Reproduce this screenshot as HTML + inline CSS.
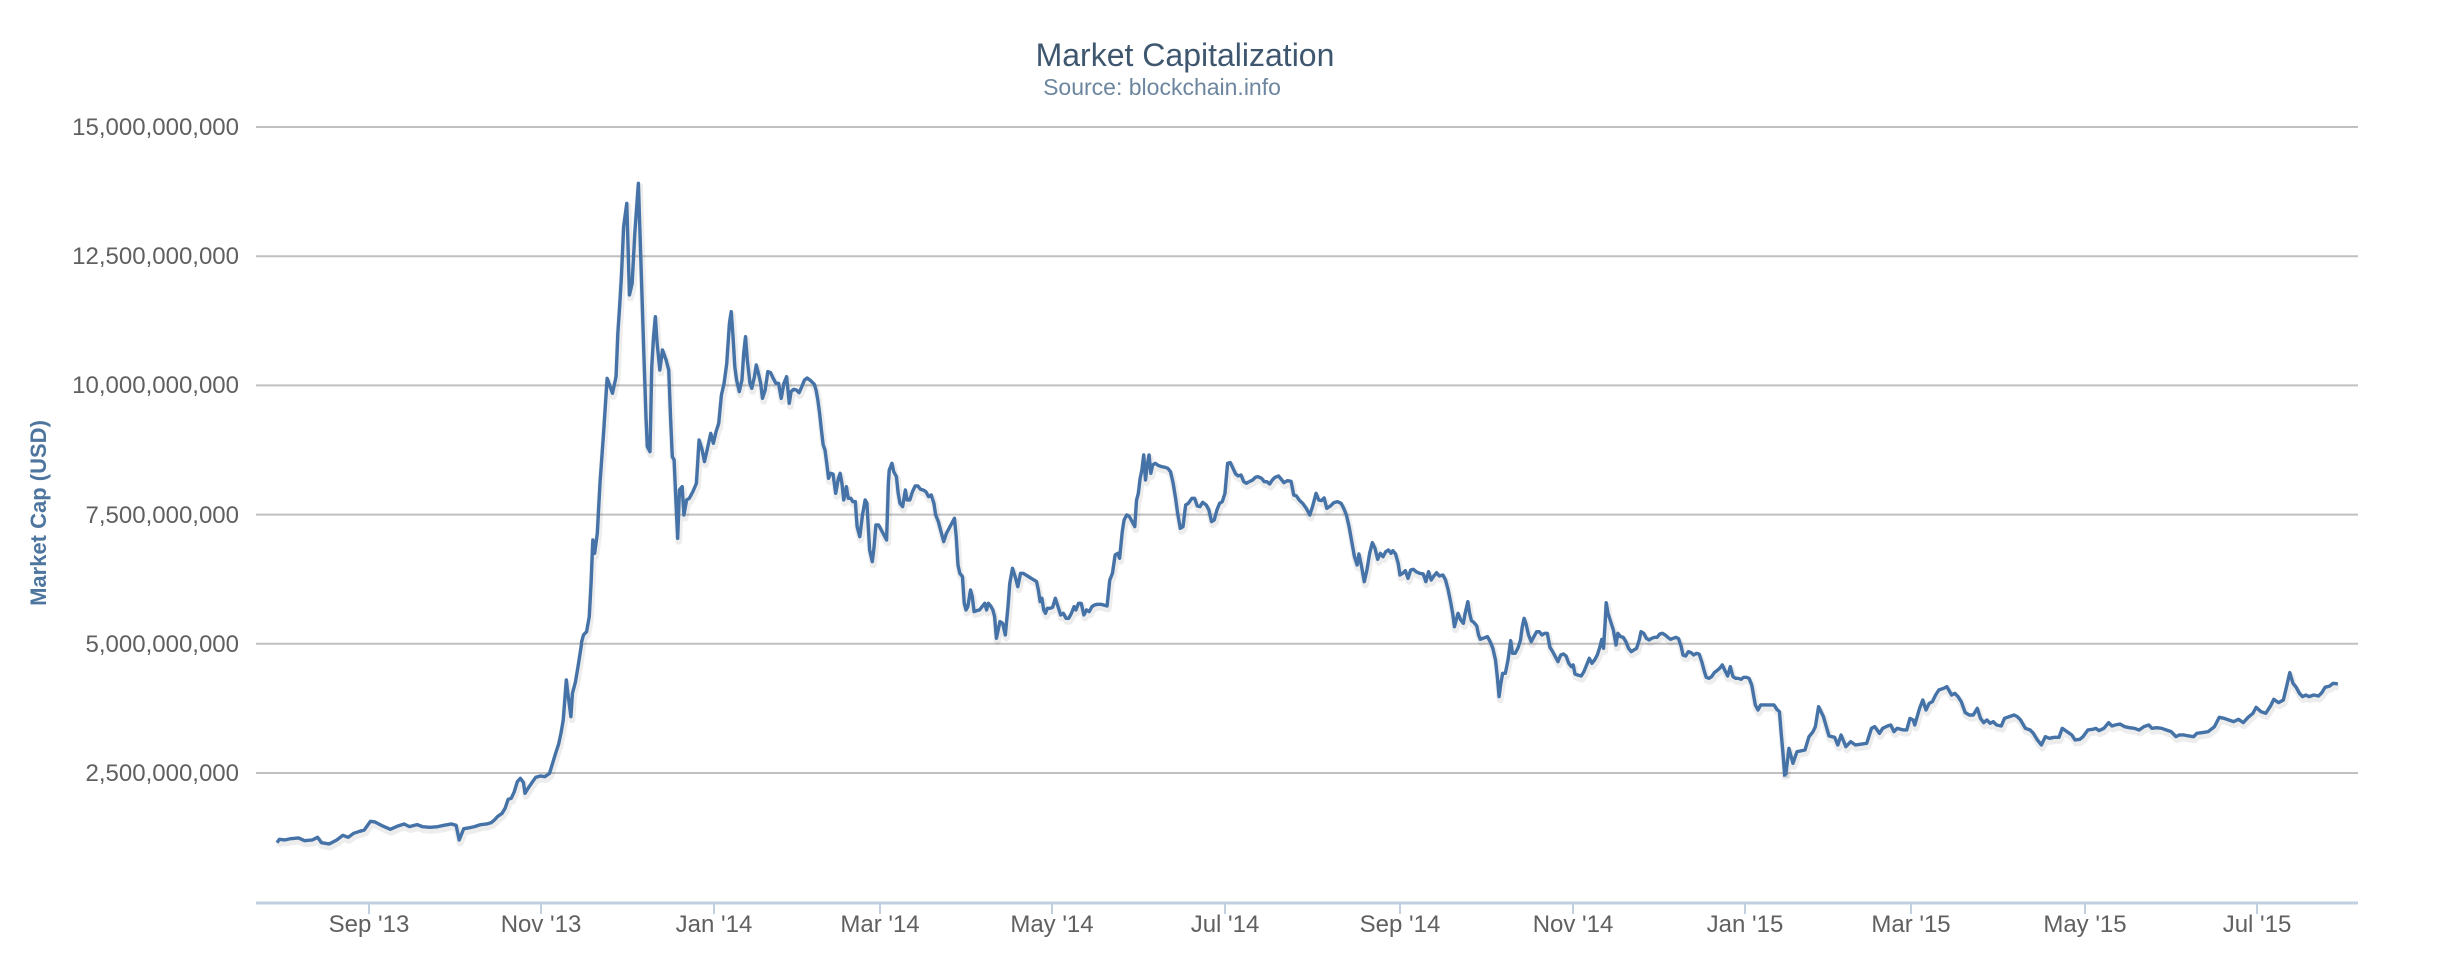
<!DOCTYPE html>
<html><head><meta charset="utf-8"><style>
html,body{margin:0;padding:0;background:#fff;}
svg{display:block;font-family:"Liberation Sans",sans-serif;}
.yl{font-size:24px;fill:#606060;text-anchor:end;}
.xl{font-size:24px;fill:#606060;text-anchor:middle;}
.ln{fill:none;stroke:#4572A7;stroke-width:3.4;stroke-linejoin:round;}
.sh{fill:none;stroke:rgba(0,0,0,0.07);stroke-width:7;stroke-linejoin:round;}
polyline{vector-effect:non-scaling-stroke;}
</style></head><body>
<svg width="2456" height="974" viewBox="0 0 2456 974" xmlns="http://www.w3.org/2000/svg">
<text x="1185" y="66" text-anchor="middle" font-size="32" fill="#3E576F">Market Capitalization</text>
<text x="1162" y="95" text-anchor="middle" font-size="23" fill="#6D869F">Source: blockchain.info</text>
<text transform="translate(46,513) rotate(-90)" text-anchor="middle" font-size="22" font-weight="bold" fill="#4D759E">Market Cap (USD)</text>
<g stroke="#C0C0C0" stroke-width="2">
<line x1="256" x2="2358" y1="127" y2="127"/>
<line x1="256" x2="2358" y1="256.2" y2="256.2"/>
<line x1="256" x2="2358" y1="385.4" y2="385.4"/>
<line x1="256" x2="2358" y1="514.6" y2="514.6"/>
<line x1="256" x2="2358" y1="643.8" y2="643.8"/>
<line x1="256" x2="2358" y1="773" y2="773"/>
</g>
<line x1="256" x2="2358" y1="903" y2="903" stroke="#C0D0E0" stroke-width="3"/>
<g stroke="#C0D0E0" stroke-width="2">
<line x1="369" x2="369" y1="903" y2="914"/><line x1="541" x2="541" y1="903" y2="914"/>
<line x1="714" x2="714" y1="903" y2="914"/><line x1="880" x2="880" y1="903" y2="914"/>
<line x1="1052" x2="1052" y1="903" y2="914"/><line x1="1225" x2="1225" y1="903" y2="914"/>
<line x1="1400" x2="1400" y1="903" y2="914"/><line x1="1573" x2="1573" y1="903" y2="914"/>
<line x1="1745" x2="1745" y1="903" y2="914"/><line x1="1911" x2="1911" y1="903" y2="914"/>
<line x1="2085" x2="2085" y1="903" y2="914"/><line x1="2257" x2="2257" y1="903" y2="914"/>
</g>
<g class="yl">
<text x="239" y="135">15,000,000,000</text>
<text x="239" y="264">12,500,000,000</text>
<text x="239" y="393">10,000,000,000</text>
<text x="239" y="523">7,500,000,000</text>
<text x="239" y="652">5,000,000,000</text>
<text x="239" y="781">2,500,000,000</text>
</g>
<g class="xl">
<text x="369" y="932">Sep '13</text><text x="541" y="932">Nov '13</text>
<text x="714" y="932">Jan '14</text><text x="880" y="932">Mar '14</text>
<text x="1052" y="932">May '14</text><text x="1225" y="932">Jul '14</text>
<text x="1400" y="932">Sep '14</text><text x="1573" y="932">Nov '14</text>
<text x="1745" y="932">Jan '15</text><text x="1911" y="932">Mar '15</text>
<text x="2085" y="932">May '15</text><text x="2257" y="932">Jul '15</text>
</g>
<defs>
<g id="s1" transform="translate(0,600) scale(0.7653,0.3333)"><polyline vector-effect="non-scaling-stroke" points="362,728 365,718 372,720 380,716 390,714 398,722 408,720 415,712 420,728 430,732 440,720 448,706 455,712 462,700 470,694 476,690 484,664 490,666 500,678 510,688 520,678 528,672 535,680 545,674 552,680 562,682 572,680 580,676 590,672 596,676 600,720 606,686 612,684 620,680 628,674 636,672 642,668 646,660 650,650 656,640 660,625 664,598 668,595 672,575 676,545 680,535 684,548 686,580 690,565 695,548 700,532 706,528 712,530 718,520 722,490 726,460 730,432 733,400 736,360 740,240 742,280 746,350 748,280 752,245 756,190 760,130"/></g>
<g id="s2" transform="translate(550,150) scale(0.4464,0.3333)"><polyline vector-effect="non-scaling-stroke" points="70,1480 75,1455 82,1445 88,1400 92,1300 96,1170 100,1210 106,1150 112,1000 120,850 128,685 140,730 148,680 152,550 156,470 160,380 165,230 172,160 178,435 184,400 190,250 198,100 204,350 210,600 215,800 218,890 224,905 228,650 232,560 236,500 240,580 246,660 252,600 260,630 266,660 270,800 274,920 278,930 282,1050 286,1165 290,1020 296,1010 300,1095 306,1050 312,1045 320,1025 328,1000 334,870 340,895 346,935 352,900 360,850 366,880 372,845 378,820 384,735 390,700 396,640 402,520 406,485 410,560 414,650 418,690 424,725 430,690 434,610 438,560 442,630 448,700 452,715 458,680 462,645 466,665 472,700 476,745 482,720 488,665 494,668 500,685 506,700 512,700 518,745 524,700 530,680 536,760 540,725 546,718 552,720 558,728 564,710 570,690 576,684 584,692 592,703 596,720 600,750 604,790 608,840 612,885 616,900 620,940 624,985 628,970 634,972 640,1030 646,985 650,970 654,1000 658,1050 664,1010 668,1045 674,1045 678,1055 684,1055 688,1130 694,1160 700,1095 706,1050 710,1060 716,1200 722,1235 726,1190 730,1125 736,1125 742,1140 748,1155 754,1170 758,1000 760,960 766,940 770,965 776,980 780,1030 784,1060 790,1070 796,1020 800,1050 806,1050 812,1025 818,1008 824,1008 830,1018 836,1020 842,1025 848,1040 854,1035 860,1060 864,1095 870,1115 876,1145 882,1175 888,1150 894,1135 900,1120 906,1105 910,1160 914,1245 918,1270 924,1280 928,1360 932,1380 936,1370 942,1320 946,1340 950,1385 956,1382 962,1380 968,1370 974,1360 978,1380 982,1360 988,1370 992,1380 996,1400 1000,1465 1004,1440 1008,1415 1014,1420 1020,1455 1026,1370 1030,1300 1036,1255 1042,1280 1048,1310 1054,1270 1060,1270 1066,1275 1072,1280 1078,1285 1084,1290 1090,1295 1094,1320 1098,1355 1102,1345 1106,1380 1110,1390 1114,1375 1120,1375 1126,1372 1132,1345 1138,1370 1144,1395 1150,1390 1156,1405 1162,1405 1168,1390 1174,1370 1178,1380 1184,1360 1190,1360 1196,1395 1202,1380 1208,1385 1214,1370 1220,1365 1226,1363 1234,1363 1240,1365 1248,1368 1254,1290 1260,1270 1266,1215 1272,1210 1276,1225 1282,1145 1286,1110 1292,1095 1298,1100 1304,1115 1310,1130 1314,1050 1318,1030 1322,985 1326,960 1330,915 1334,990 1338,945 1342,915 1346,970 1350,945 1356,940 1362,946 1370,950 1378,952 1384,955 1390,965 1396,1000 1402,1050 1406,1090 1412,1135 1418,1130 1424,1065 1430,1060 1438,1045 1444,1045 1450,1068 1456,1070 1462,1057 1470,1065 1476,1080 1482,1115 1488,1110 1494,1080 1500,1060 1506,1055 1512,1030 1518,940 1524,938 1530,955 1536,972 1542,978 1548,975 1554,995 1560,1000 1566,995"/></g>
<g id="s3" transform="translate(1200,400) scale(0.4464,0.3333)"><polyline vector-effect="non-scaling-stroke" points="110,245 118,240 124,232 130,230 138,235 144,245 150,245 156,252 162,240 168,232 176,228 182,238 188,248 196,242 204,244 210,285 216,288 222,300 230,310 238,325 246,345 252,320 260,280 266,300 272,302 278,294 284,325 292,318 300,308 308,305 316,310 322,325 328,345 334,380 340,425 346,470 352,495 356,462 362,500 368,545 374,510 380,460 386,428 392,445 398,478 404,460 410,470 416,455 422,450 428,460 432,452 438,462 444,490 448,525 454,520 460,512 466,535 472,510 478,508 484,515 492,520 500,522 506,545 512,515 518,540 524,528 530,518 536,528 544,525 550,540 556,570 562,610 566,640 570,680 574,660 578,640 584,660 590,670 594,640 600,605 604,640 608,662 614,668 620,678 624,705 628,718 634,715 644,710 650,725 656,745 662,780 666,830 670,890 674,850 678,820 684,820 690,780 696,722 700,760 706,760 712,745 718,720 722,680 726,655 730,670 736,705 742,725 748,710 754,695 760,695 766,705 772,700 778,700 784,742 790,755 796,770 802,785 808,765 814,762 820,768 826,790 832,800 836,795 840,822 846,825 854,828 860,815 866,795 872,775 878,790 884,780 890,765 896,740 900,718 904,745 908,660 910,608 914,640 920,665 926,690 932,735 936,700 942,710 948,712 954,725 960,745 966,755 972,750 978,745 984,720 988,695 994,700 1000,715 1006,720 1012,715 1018,712 1024,712 1030,702 1036,700 1042,705 1048,712 1054,718 1060,715 1066,712 1072,716 1078,740 1082,765 1088,768 1094,755 1100,758 1106,765 1112,760 1118,762 1124,785 1130,815 1134,832 1140,835 1146,830 1152,818 1158,812 1164,805 1170,795 1176,812 1182,828 1188,800 1194,830 1200,835 1206,835 1212,838 1218,832 1224,832 1230,835 1236,855 1240,885 1244,915 1250,930 1256,915 1264,915 1272,915 1280,915 1286,915 1292,928 1298,935 1302,1000 1306,1060 1310,1130"/></g>
<g id="s4" transform="translate(1200,600) scale(0.8013,0.3333)"><polyline vector-effect="non-scaling-stroke" points="731,525 735,445 740,490 745,455 755,450 760,410 765,395 768,380 772,320 778,350 785,408 792,412 796,435 800,405 806,440 812,425 818,435 832,430 838,385 842,380 848,400 852,385 858,378 862,375 866,395 870,385 878,390 882,390 886,355 890,360 892,375 898,325 902,300 906,330 910,310 914,305 918,285 922,270 928,265 932,260 938,285 942,280 946,290 950,305 955,338 960,345 965,345 970,325 974,355 978,368 982,360 986,370 990,365 994,375 1000,378 1004,355 1010,350 1016,345 1020,350 1024,360 1030,385 1036,390 1040,400 1045,420 1050,435 1055,410 1060,415 1066,412 1072,412 1076,385 1082,395 1088,405 1092,420 1098,418 1102,410 1108,390 1114,388 1118,385 1122,392 1128,385 1134,368 1138,378 1142,375 1148,372 1154,380 1160,383 1166,385 1172,390 1178,380 1184,375 1188,385 1194,383 1200,385 1206,390 1212,395 1218,410 1222,405 1228,405 1234,408 1240,410 1244,400 1250,398 1258,395 1266,380 1272,352 1278,355 1284,360 1290,365 1296,358 1302,368 1308,352 1314,340 1318,322 1324,335 1330,340 1336,318 1340,298 1346,308 1352,300 1356,260 1360,218 1364,250 1368,262 1372,280 1376,290 1380,285 1384,290 1390,285 1396,288 1400,278 1404,262 1410,258 1414,250 1420,252"/></g>
</defs>
<g class="sh" transform="translate(1,3)"><use href="#s1"/><use href="#s2"/><use href="#s3"/><use href="#s4"/></g>
<g class="ln"><use href="#s1"/><use href="#s2"/><use href="#s3"/><use href="#s4"/></g>
</svg>
</body></html>
